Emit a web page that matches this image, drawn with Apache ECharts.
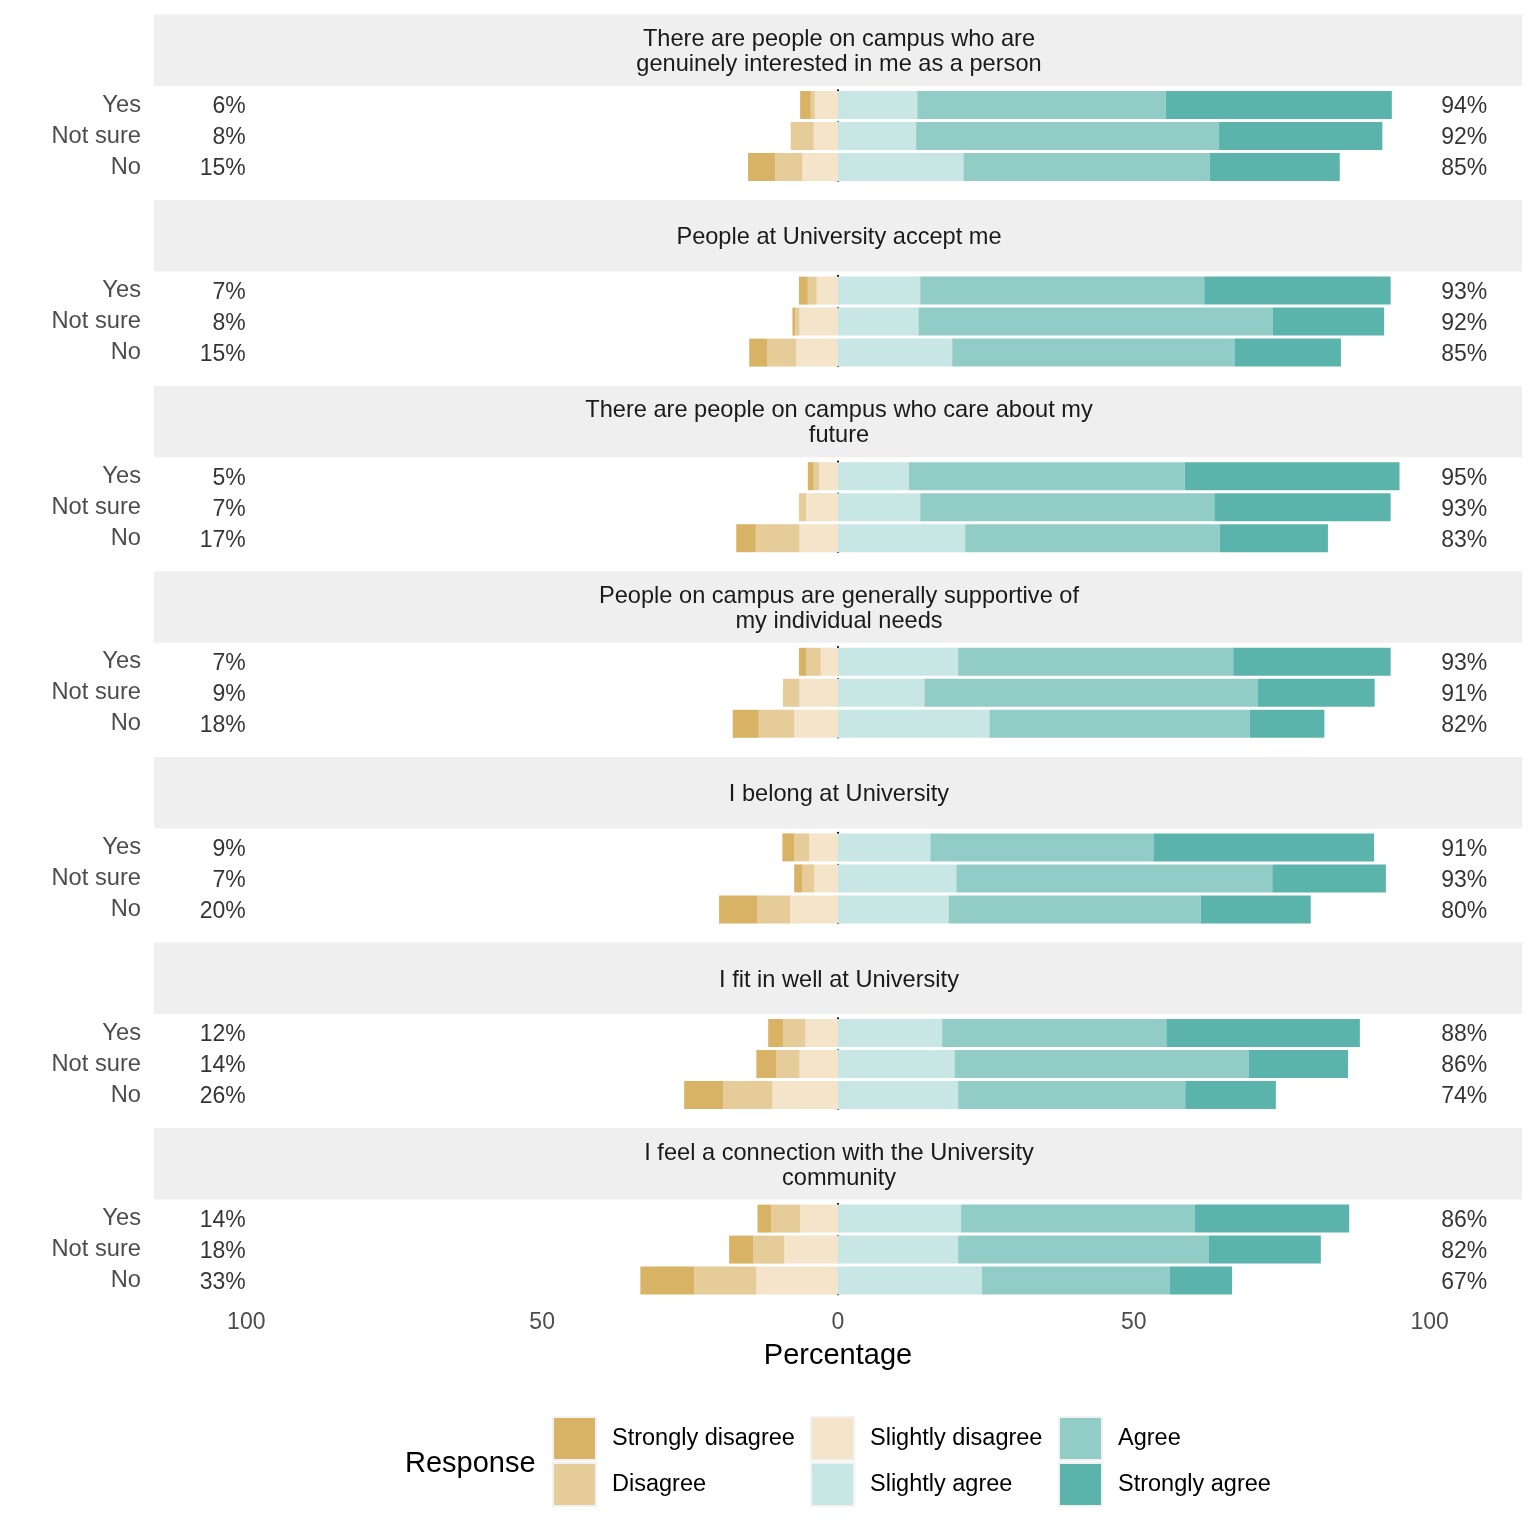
<!DOCTYPE html>
<html>
<head>
<meta charset="utf-8">
<script src="https://cdn.jsdelivr.net/npm/echarts@6/dist/echarts.min.js"></script>
<style>
html,body{margin:0;padding:0;background:#fff;}
#chart{width:1536px;height:1536px;}
</style>
</head>
<body>
<div id="chart"></div>
<script>
// ---- data ----
const items = [
  "There are people on campus who are\ngenuinely interested in me as a person",
  "People at University accept me",
  "There are people on campus who care about my\nfuture",
  "People on campus are generally supportive of\nmy individual needs",
  "I belong at University",
  "I fit in well at University",
  "I feel a connection with the University\ncommunity"
];
const groups = ["Yes", "Not sure", "No"];
const levels = ["Strongly disagree", "Disagree", "Slightly disagree", "Slightly agree", "Agree", "Strongly agree"];
// each inner array: [Yes, Not sure, No] percentages per item
const stronglyDisagree = [[1.8,0,4.6],[1.5,0.5,3.0],[1.0,0,3.3],[1.2,0,4.4],[2.0,1.4,6.5],[2.5,3.4,6.6],[2.3,4.1,9.1]];
const disagree         = [[0.7,3.9,4.6],[1.5,0.7,4.9],[0.9,1.2,7.4],[2.5,2.8,6.0],[2.5,2.0,5.5],[3.8,3.9,8.3],[4.9,5.2,10.5]];
const slightlyDisagree = [[3.9,4.1,6.0],[3.6,6.5,7.1],[3.2,5.4,6.5],[2.9,6.5,7.4],[4.9,4.0,8.1],[5.5,6.5,11.1],[6.4,9.1,13.8]];
const slightlyAgree    = [[13.4,13.2,21.2],[13.9,13.6,19.3],[12.0,13.9,21.5],[20.3,14.6,25.6],[15.6,20.0,18.7],[17.6,19.7,20.3],[20.8,20.3,24.3]];
const agree            = [[42.0,51.2,41.6],[48.0,59.9,47.7],[46.6,49.7,43.0],[46.5,56.3,44.0],[37.7,53.4,42.6],[37.9,49.7,38.4],[39.5,42.4,31.8]];
const stronglyAgree    = [[38.2,27.6,22.0],[31.5,18.8,18.0],[36.3,29.8,18.3],[26.6,19.8,12.6],[37.3,19.2,18.6],[32.7,16.8,15.3],[26.1,18.9,10.5]];
const tickValues = [-100, -50, 0, 50, 100];

const colors = {
  "Strongly disagree": "#D8B365",
  "Disagree": "#E6CC99",
  "Slightly disagree": "#F3E4CA",
  "Slightly agree": "#C8E6E4",
  "Agree": "#91CDC6",
  "Strongly agree": "#5AB4AC"
};

// ---- layout ----
const FONT = "Liberation Sans, Arial, sans-serif";
const panelLeft = 154, panelRight = 1522;
const firstStripTop = 14.5, pitch = 185.6, stripH = 71.5;
const gridOffset = 75, gridH = 93;
const xMin = -115.6, xMax = 115.6;

const grids = [], xAxes = [], yAxes = [], series = [], graphics = [];
const negSets = [["Slightly disagree", slightlyDisagree], ["Disagree", disagree], ["Strongly disagree", stronglyDisagree]];
const posSets = [["Slightly agree", slightlyAgree], ["Agree", agree], ["Strongly agree", stronglyAgree]];

items.forEach((item, i) => {
  const stripTop = firstStripTop + i * pitch;
  const last = i === items.length - 1;
  graphics.push({
    type: 'rect', silent: true,
    shape: { x: panelLeft, y: stripTop, width: panelRight - panelLeft, height: stripH },
    style: { fill: '#EFEFEF' }, z: -10
  });
  graphics.push({
    type: 'text', silent: true,
    x: (panelLeft + panelRight) / 2 + 1, y: stripTop + stripH / 2 + 2,
    style: { text: item, fontSize: 23.6, fontFamily: FONT, fill: '#1A1A1A', align: 'center', verticalAlign: 'middle', lineHeight: 25 }
  });
  grids.push({ left: panelLeft, right: 1536 - panelRight, top: stripTop + gridOffset, height: gridH, containLabel: false });
  xAxes.push({
    type: 'value', gridIndex: i, min: xMin, max: xMax,
    axisLine: { show: false }, axisTick: { show: false }, splitLine: { show: false },
    axisLabel: {
      show: last, customValues: tickValues, margin: 15,
      fontSize: 23, fontFamily: FONT, color: '#4D4D4D',
      formatter: v => String(Math.abs(Math.round(v)))
    },
    name: last ? 'Percentage' : '', nameLocation: 'middle', nameGap: 45,
    nameTextStyle: { fontSize: 29, fontFamily: FONT, color: '#000' }
  });
  yAxes.push({
    type: 'category', gridIndex: i, data: groups, inverse: true,
    axisLine: { show: false }, axisTick: { show: false }, splitLine: { show: false },
    axisLabel: { interval: 0, hideOverlap: false, fontSize: 23.7, fontFamily: FONT, color: '#4D4D4D', margin: 13, padding: [6, 0, 0, 0] }
  });
  negSets.forEach(([name, arr]) => {
    series.push({
      type: 'bar', name, xAxisIndex: i, yAxisIndex: i, stack: 'p' + i, barWidth: 28,
      itemStyle: { color: colors[name] }, z: 3, silent: true,
      data: arr[i].map(v => -v)
    });
  });
  posSets.forEach(([name, arr]) => {
    series.push({
      type: 'bar', name, xAxisIndex: i, yAxisIndex: i, stack: 'p' + i, barWidth: 28,
      itemStyle: { color: colors[name] }, z: 3, silent: true,
      data: arr[i].slice()
    });
  });
  const low = groups.map((g, k) => stronglyDisagree[i][k] + disagree[i][k] + slightlyDisagree[i][k]);
  const high = groups.map((g, k) => slightlyAgree[i][k] + agree[i][k] + stronglyAgree[i][k]);
  series.push({
    type: 'scatter', xAxisIndex: i, yAxisIndex: i, symbolSize: 1, silent: true,
    itemStyle: { color: 'transparent' }, z: 4,
    label: { show: true, position: 'left', distance: 0, offset: [0, 2], fontSize: 23, fontFamily: FONT, color: '#000',
      formatter: p => Math.round(low[p.dataIndex]) + '%' },
    data: groups.map((g, k) => [-100, k])
  });
  series.push({
    type: 'scatter', xAxisIndex: i, yAxisIndex: i, symbolSize: 1, silent: true,
    itemStyle: { color: 'transparent' }, z: 4,
    label: { show: true, position: 'right', distance: 11, offset: [0, 2], fontSize: 23, fontFamily: FONT, color: '#000',
      formatter: p => Math.round(high[p.dataIndex]) + '%' },
    data: groups.map((g, k) => [100, k])
  });
  series.push({
    type: 'line', xAxisIndex: i, yAxisIndex: i, data: [], z: 1, silent: true,
    markLine: {
      silent: true, z: 1, symbol: ['none', 'none'], label: { show: false },
      lineStyle: { color: '#000', type: [4, 4], width: 2 },
      data: [{ xAxis: 0 }]
    }
  });
});

const legendCommon = {
  orient: 'vertical', itemWidth: 43, itemHeight: 43, itemGap: 1, padding: 0,
  selectedMode: false, icon: 'rect',
  itemStyle: { borderColor: '#F2F2F2', borderWidth: 2 },
  textStyle: { fontSize: 23.5, fontFamily: FONT, color: '#000', padding: [0, 0, 0, 11] }
};

const option = {
  animation: false,
  backgroundColor: '#fff',
  title: { text: 'Response', left: 405, top: 1449, padding: 0,
    textStyle: { fontSize: 29, fontFamily: FONT, color: '#000', fontWeight: 'normal' } },
  legend: [
    Object.assign({ data: ['Strongly disagree', 'Disagree'], left: 552, top: 1416 }, legendCommon),
    Object.assign({ data: ['Slightly disagree', 'Slightly agree'], left: 810, top: 1416 }, legendCommon),
    Object.assign({ data: ['Agree', 'Strongly agree'], left: 1058, top: 1416 }, legendCommon)
  ],
  grid: grids, xAxis: xAxes, yAxis: yAxes, series: series,
  graphic: graphics
};

const chart = echarts.init(document.getElementById('chart'), null, { renderer: 'canvas' });
chart.setOption(option);
</script>
</body>
</html>
